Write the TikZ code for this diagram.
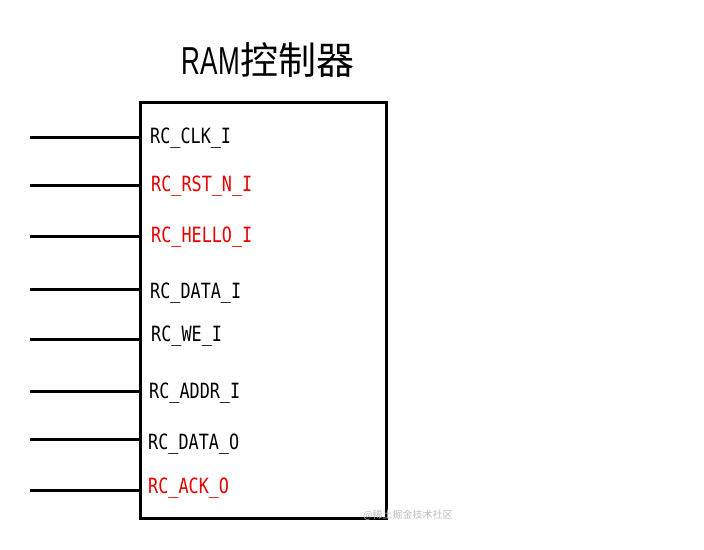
\documentclass[tikz,border=0pt]{standalone}
\usepackage{fontspec}
\setmainfont{Liberation Sans}
\newfontfamily\lblfont[FakeStretch=0.8]{DejaVu Sans Mono}
\newfontfamily\ttlfont[FakeStretch=0.67]{Liberation Sans}
\newfontfamily\cjkfont{Noto Sans CJK SC}
\definecolor{portred}{RGB}{230,0,0}
\definecolor{wmgray}{RGB}{190,190,190}
\tikzset{
  blockbox/.style={draw=black, line width=3pt, minimum width=246pt, minimum height=416pt, inner sep=0pt, anchor=north west},
  portlbl/.style={anchor=west, inner sep=0pt, font=\lblfont\fontsize{21}{21}\selectfont},
  redlbl/.style={portlbl, text=portred},
  wire/.style={line width=3pt, draw=black},
}
\begin{document}
\begin{tikzpicture}[x=1pt,y=-1pt]
\useasboundingbox (0,0) rectangle (704,549);
\node[blockbox] (blk) at (139,101) {};
\node[anchor=center, inner sep=0pt] (title) at (268,60) {\ttlfont\fontsize{39}{39}\selectfont RAM\cjkfont\fontsize{38}{38}\selectfont 控制器};
\foreach \nm/\yy in {p1/137,p2/185,p3/236,p4/289,p5/339,p6/391,p7/439,p8/490}{
  \coordinate (\nm) at (30,\yy);
  \draw[wire] (\nm) -- (blk.west |- \nm);
}
\node[portlbl] (l1) at (150,138.5) {RC\_CLK\_I};
\node[redlbl] (l2) at (151,186.5) {RC\_RST\_N\_I};
\node[redlbl] (l3) at (151,237.5) {RC\_HELLO\_I};
\node[portlbl] (l4) at (150,293.5) {RC\_DATA\_I};
\node[portlbl] (l5) at (151,336.5) {RC\_WE\_I};
\node[portlbl] (l6) at (149,393.5) {RC\_ADDR\_I};
\node[portlbl] (l7) at (148,444.5) {RC\_DATA\_O};
\node[redlbl] (l8) at (148,488.5) {RC\_ACK\_O};
\node[anchor=west, inner sep=0pt, text=wmgray, font=\cjkfont\fontsize{10}{10}\selectfont] (wm) at (363,515) {@稀土掘金技术社区};
\end{tikzpicture}
\end{document}
